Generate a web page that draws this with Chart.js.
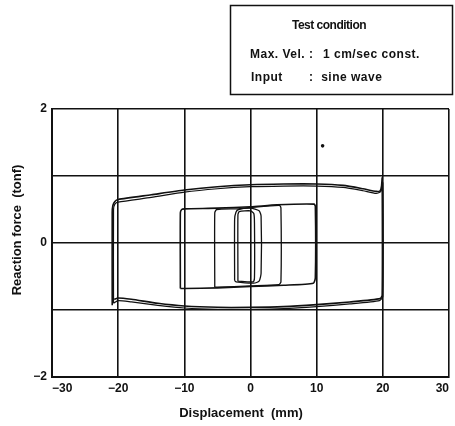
<!DOCTYPE html>
<html lang="en">
<head>
    <meta charset="UTF-8">
    <title>Hysteresis loops</title>
    <script src="https://cdn.jsdelivr.net/npm/chart.js"></script>
    <style>
        body {
            margin: 0;
            background: #ffffff;
        }

        .chart-box {
            width: 455px;
            height: 426px;
        }
    </style>
</head>
<body>
    <div class="chart-box">
        <canvas id="loopChart" width="455" height="426"></canvas>
    </div>

    <script>
        // Axis ticks and titles
        var xTicks = [-30, -20, -10, 0, 10, 20, 30];
        var yLabelled = [-2, 0, 2];
        var xTitle = 'Displacement  (mm)';
        var yTitle = 'Reaction force  (tonf)';

        // Loops: [displacement mm, force tonf]
        var loop20a = [
            [-20.9, -0.93], [-20.9, 0.45], [-20.8, 0.56], [-20.5, 0.62], [-20, 0.65], [-15, 0.72],
            [-10, 0.79], [-5, 0.84], [0, 0.87], [5, 0.88], [10, 0.88], [14, 0.86], [17, 0.81],
            [19, 0.77], [19.6, 0.78], [19.8, 0.85], [19.9, 0.97], [19.9, -0.78], [19.6, -0.83],
            [15, -0.88], [10, -0.92], [5, -0.95], [0, -0.96], [-5, -0.96], [-10, -0.94],
            [-14, -0.9], [-18, -0.84], [-20, -0.82], [-20.6, -0.84]
        ];
        var loop20b = [
            [-20.7, -0.9], [-20.7, 0.5], [-20.5, 0.58], [-20, 0.61], [-15, 0.68], [-10, 0.76],
            [-5, 0.81], [0, 0.84], [5, 0.85], [10, 0.85], [14, 0.83], [17, 0.78], [19, 0.74],
            [19.7, 0.77], [20, 0.9], [20, -0.8], [19.5, -0.86], [15, -0.91], [10, -0.95],
            [5, -0.98], [0, -0.99], [-5, -0.99], [-10, -0.97], [-14, -0.93], [-18, -0.88],
            [-20, -0.86], [-20.7, -0.9]
        ];
        var loop10 = [
            [-10.6, -0.68], [-10.6, 0.45], [-10.4, 0.5], [-10, 0.51], [-5, 0.52], [0, 0.54],
            [4, 0.57], [9.6, 0.58], [9.8, 0.55], [9.8, -0.52], [9.5, -0.6], [5, -0.63],
            [0, -0.65], [-5, -0.67], [-10, -0.68], [-10.6, -0.68]
        ];
        var loop5 = [
            [-5.4, -0.66], [-5.4, 0.45], [-5.1, 0.5], [-2, 0.51], [0, 0.53], [4.4, 0.56],
            [4.6, 0.52], [4.6, -0.58], [4.3, -0.62], [0, -0.64], [-5, -0.66], [-5.4, -0.66]
        ];
        var loop2 = [
            [-2.4, -0.56], [-2.4, 0.35], [-2.2, 0.46], [-1.8, 0.5], [0, 0.52], [1.3, 0.48],
            [1.6, 0.4], [1.6, -0.45], [1.3, -0.57], [0.5, -0.6], [-2.2, -0.58], [-2.4, -0.56]
        ];
        var loop1 = [
            [-1.9, -0.57], [-1.9, 0.42], [-1.7, 0.47], [0, 0.48], [0.5, 0.44], [0.6, 0.3],
            [0.6, -0.52], [0.4, -0.58], [-1.9, -0.57]
        ];
        // stray speck on the original plot
        var speck = [[10.9, 1.45]];

        // Test condition box text
        var boxTitle = 'Test condition';
        var boxRows = [
            ['Max. Vel. :', '1 cm/sec const.'],
            ['Input', ':  sine wave']
        ];

        var fontFamily = '"Liberation Sans", Arial, sans-serif';

        function toPoints(arr) {
            return arr.map(function (p) { return { x: p[0], y: p[1] }; });
        }

        function minus(v) {
            return v < 0 ? '\u2212' + Math.abs(v) : String(v);
        }

        function loopSet(name, arr, width) {
            return {
                label: name,
                data: toPoints(arr),
                showLine: true,
                borderColor: '#111',
                borderWidth: width,
                pointRadius: 0,
                tension: 0.2,
                fill: false
            };
        }

        // axis titles (placed a bit off-centre like the original) and the "Test condition" box
        var annotations = {
            id: 'annotations',
            afterDraw: function (chart) {
                var ctx = chart.ctx;
                ctx.save();
                ctx.fillStyle = '#111';
                ctx.textBaseline = 'middle';
                ctx.textAlign = 'center';

                ctx.font = 'bold 13px ' + fontFamily;
                ctx.fillText(xTitle, 241, 413);
                ctx.save();
                ctx.translate(17, 230);
                ctx.rotate(-Math.PI / 2);
                ctx.fillText(yTitle, 0, 0);
                ctx.restore();

                ctx.strokeStyle = '#111';
                ctx.lineWidth = 1.5;
                ctx.strokeRect(230.5, 5.5, 222, 89);
                ctx.font = 'bold 12px ' + fontFamily;
                ctx.letterSpacing = '-0.5px';
                ctx.fillText(boxTitle, 329, 26);
                ctx.textAlign = 'left';
                ctx.letterSpacing = '0.5px';
                ctx.fillText(boxRows[0][0], 250, 55);
                ctx.fillText(boxRows[0][1], 323, 55);
                ctx.fillText(boxRows[1][0], 251, 78);
                ctx.fillText(boxRows[1][1], 309, 78);
                ctx.restore();
            }
        };

        var tickFont = { family: fontFamily, size: 12, weight: 'bold' };

        var ctx = document.getElementById('loopChart').getContext('2d');
        var loopChart = new Chart(ctx, {
            type: 'scatter',
            data: {
                datasets: [
                    loopSet('±20 mm, cycle 1', loop20a, 1.6),
                    loopSet('±20 mm, cycle 2', loop20b, 1.2),
                    loopSet('±10 mm', loop10, 1.6),
                    loopSet('±5 mm', loop5, 1.3),
                    loopSet('±2 mm', loop2, 1.3),
                    loopSet('±1 mm', loop1, 1.3),
                    {
                        label: 'speck',
                        data: toPoints(speck),
                        pointRadius: 1.8,
                        backgroundColor: '#111',
                        borderWidth: 0
                    }
                ]
            },
            options: {
                responsive: false,
                animation: false,
                layout: {
                    padding: { top: 109, right: 6, left: 0, bottom: 0 }
                },
                plugins: {
                    legend: { display: false },
                    tooltip: { enabled: false }
                },
                scales: {
                    x: {
                        type: 'linear',
                        min: -30,
                        max: 30,
                        afterFit: function (scale) {
                            scale.height = 49;
                            scale.paddingLeft = 0;
                            scale.paddingRight = 0;
                        },
                        afterBuildTicks: function (scale) {
                            scale.ticks = xTicks.map(function (v) { return { value: v }; });
                        },
                        ticks: {
                            color: '#111',
                            font: tickFont,
                            padding: 4,
                            align: 'inner',
                            maxRotation: 0,
                            callback: function (v) { return minus(v); }
                        },
                        grid: { color: '#111', lineWidth: 1.6, drawTicks: false },
                        border: { color: '#111', width: 2 }
                    },
                    y: {
                        type: 'linear',
                        min: -2,
                        max: 2,
                        afterFit: function (scale) {
                            scale.width = 52;
                            scale.paddingTop = 0;
                            scale.paddingBottom = 0;
                        },
                        ticks: {
                            stepSize: 1,
                            color: '#111',
                            font: tickFont,
                            padding: 5,
                            callback: function (v) {
                                return yLabelled.indexOf(v) >= 0 ? minus(v) : '';
                            }
                        },
                        grid: { color: '#111', lineWidth: 1.6, drawTicks: false },
                        border: { color: '#111', width: 2 }
                    }
                }
            },
            plugins: [annotations]
        });
    </script>
</body>
</html>
